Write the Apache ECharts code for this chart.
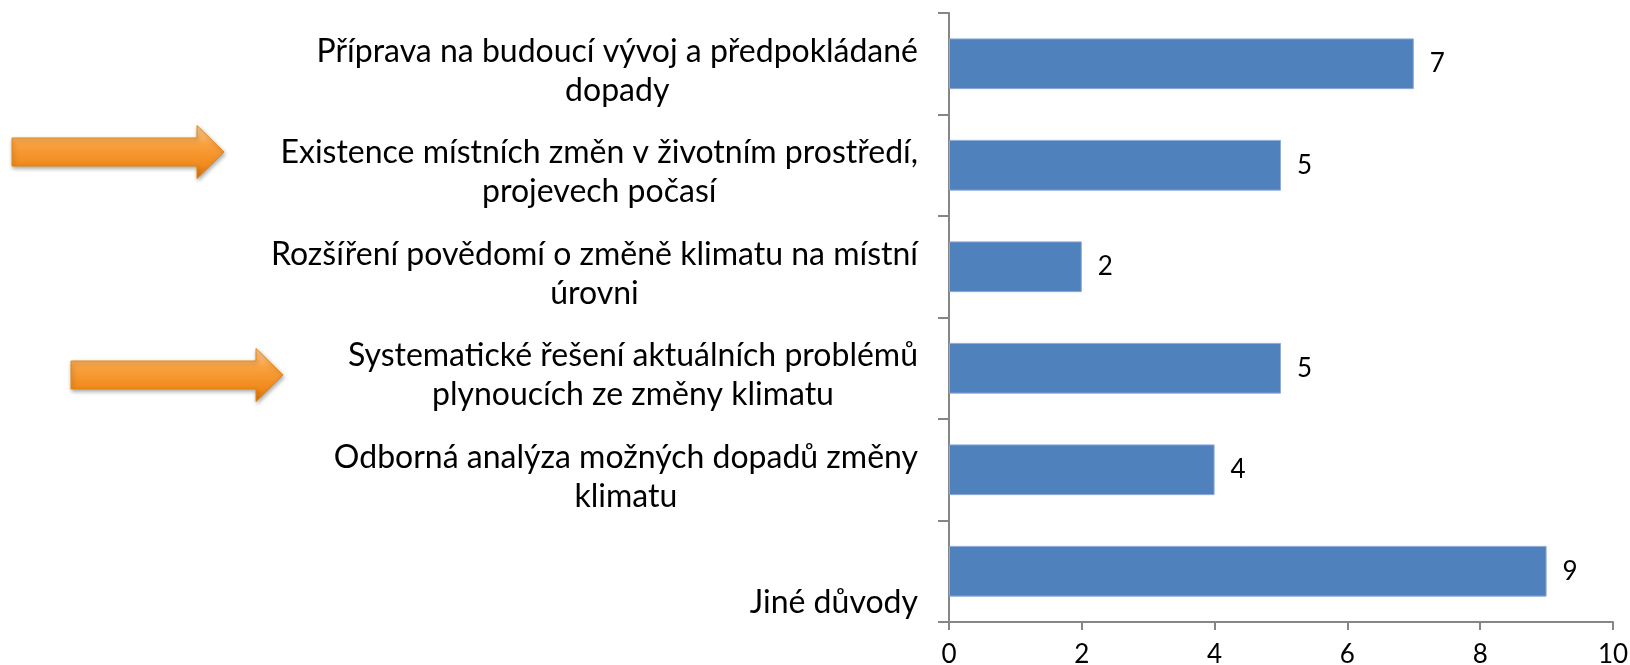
<!DOCTYPE html>
<html>
<head>
<meta charset="utf-8">
<script src="https://cdn.jsdelivr.net/npm/echarts@6/dist/echarts.min.js"></script>
<style>
  html, body { margin: 0; padding: 0; background: #fff; }
  #chart { width: 1630px; height: 665px; }
</style>
</head>
<body>
<div id="chart"></div>
<script>
// kategorie shora dolu (zalomeni radku jako v originale)
const categories = [
  'Příprava na budoucí vývoj a předpokládané\ndopady',
  'Existence místních změn v životním prostředí,\nprojevech počasí',
  'Rozšíření povědomí o změně klimatu na místní\núrovni',
  'Systematické řešení aktuálních problémů\nplynoucích ze změny klimatu',
  'Odborná analýza možných dopadů změny\nklimatu',
  'Jiné důvody'
]
const counts = [7, 5, 2, 5, 4, 9]
const xTicks = [0, 2, 4, 6, 8, 10]

const fontFamily = 'Lato, "Open Sans", sans-serif'
const axisGray = '#868686'

// oranzova sipka (dekorace vlevo)
function arrow(x, y) {
  const len = 212, shaft = 28, head = 53, headLen = 27
  return {
    type: 'polygon',
    shape: {
      points: [
        [x, y - shaft / 2], [x + len - headLen, y - shaft / 2], [x + len - headLen, y - head / 2],
        [x + len, y], [x + len - headLen, y + head / 2], [x + len - headLen, y + shaft / 2],
        [x, y + shaft / 2]
      ]
    },
    style: {
      fill: new echarts.graphic.LinearGradient(0, 0, 0, 1, [
        { offset: 0, color: '#fdd29e' },
        { offset: 0.35, color: '#f9a13f' },
        { offset: 0.75, color: '#f08a1c' },
        { offset: 1, color: '#d9700f' }
      ]),
      stroke: '#e8820f',
      lineWidth: 1,
      shadowBlur: 4,
      shadowOffsetX: 1,
      shadowOffsetY: 2,
      shadowColor: 'rgba(0,0,0,0.35)'
    }
  }
}

const chart = echarts.init(document.getElementById('chart'))

const option = {
  animation: false,
  grid: { left: 949, right: 17, top: 13, bottom: 43, outerBoundsMode: 'none' },
  xAxis: {
    type: 'value',
    min: 0,
    max: 10,
    interval: 2,
    axisLine: { show: true, lineStyle: { color: axisGray, width: 2 } },
    axisTick: { show: true, length: 8, lineStyle: { color: axisGray, width: 2 } },
    splitLine: { show: false },
    axisLabel: {
      margin: 20,
      fontSize: 26,
      color: '#000',
      fontFamily: fontFamily,
      formatter: v => xTicks.includes(v) ? String(v) : ''
    }
  },
  yAxis: {
    type: 'category',
    inverse: true,
    data: categories,
    axisLine: { show: true, lineStyle: { color: axisGray, width: 2 } },
    axisTick: { show: true, length: 11, lineStyle: { color: axisGray, width: 2 } },
    axisLabel: {
      margin: 31,
      align: 'right',
      formatter: (value, index) => {
        const tag = index === categories.length - 1 ? 'last' : 'c'
        return value.split('\n').map((line, i) => '{' + (i === 0 ? tag : 'c') + '|' + line + '}').join('\n')
      },
      rich: {
        c: { align: 'center', fontSize: 32, lineHeight: 39, color: '#000', fontFamily: fontFamily, padding: [14, 0, 0, 0] },
        last: { align: 'center', fontSize: 32, lineHeight: 39, color: '#000', fontFamily: fontFamily, padding: [62, 0, 0, 0] }
      }
    }
  },
  series: [
    {
      type: 'bar',
      data: counts,
      barCategoryGap: '50%',
      itemStyle: { color: '#4f81bd', borderColor: '#8eaadb', borderWidth: 1 },
      label: {
        show: true,
        position: 'right',
        distance: 16,
        fontSize: 26,
        color: '#000',
        fontFamily: fontFamily
      }
    }
  ],
  graphic: [arrow(12, 152), arrow(71, 375)]
}

chart.setOption(option)
</script>
</body>
</html>
